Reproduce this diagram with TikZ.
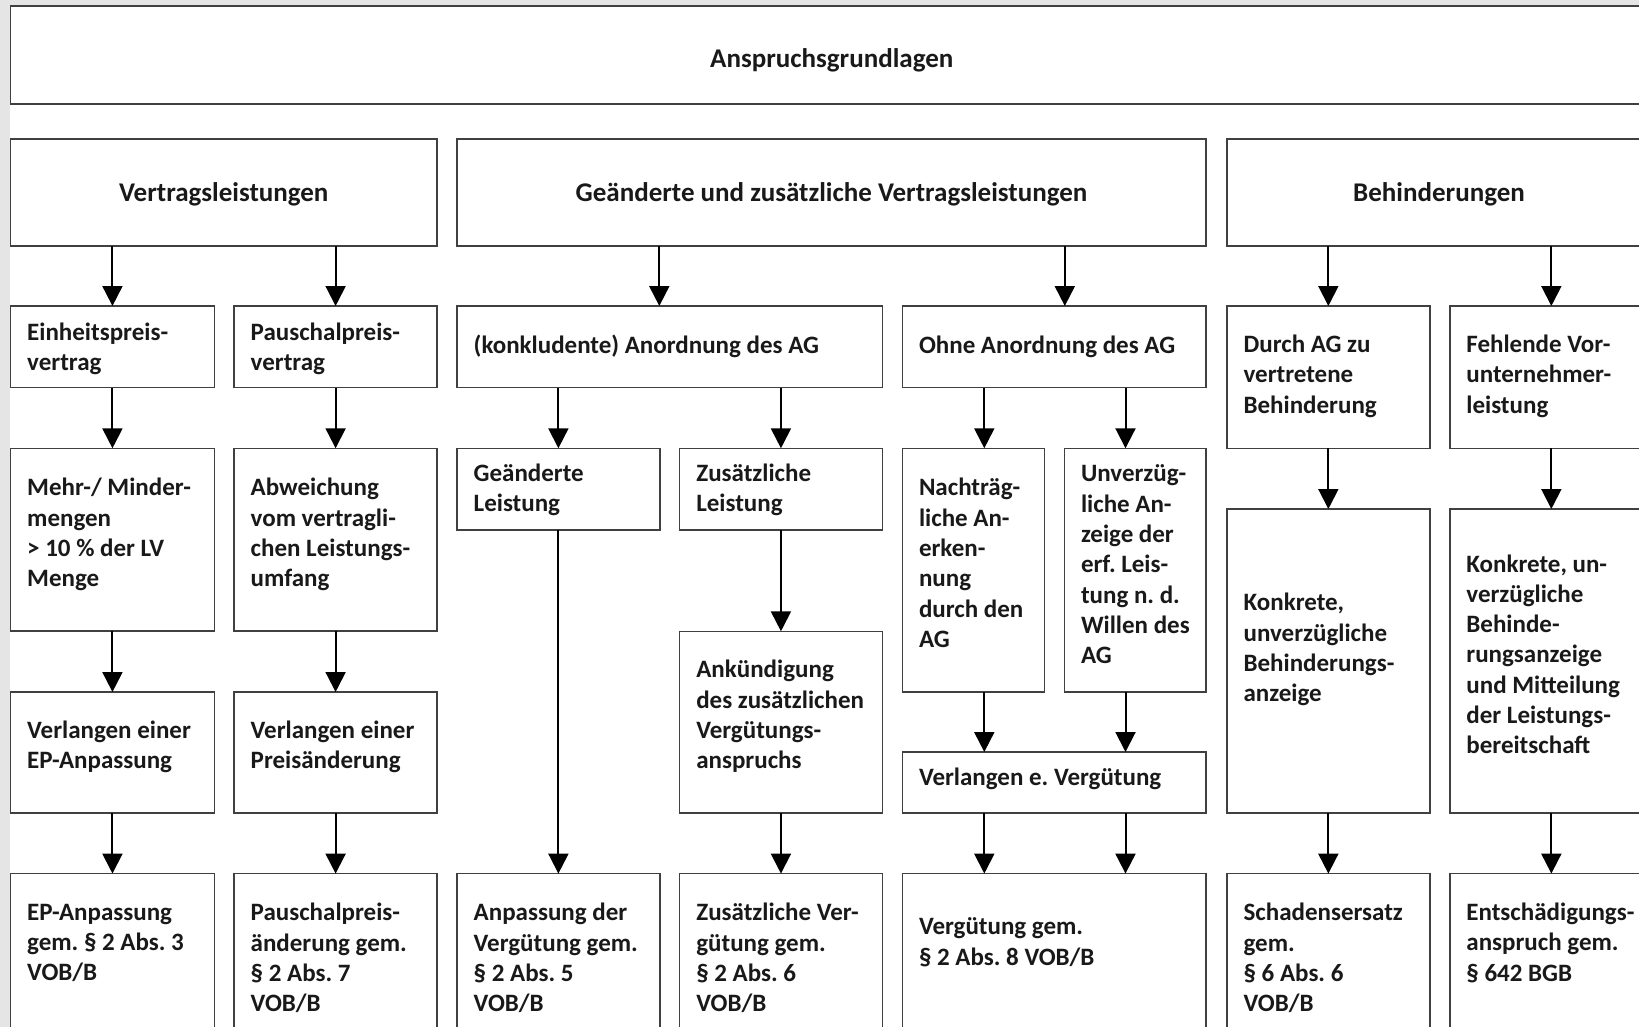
\documentclass[tikz,border=0pt]{standalone}
\usepackage{fontspec}
\setmainfont{Carlito}
\usetikzlibrary{arrows.meta,calc,fit}
\tikzset{
  box/.style={draw=black!75, line width=1.6pt, inner sep=0pt, outer sep=0pt},
  txt/.style={font=\bfseries\fontsize{25}{30.3}\selectfont\frenchspacing, text=black!90, align=left, inner sep=0pt, anchor=west},
  txtc/.style={font=\bfseries\fontsize{27}{32}\selectfont\frenchspacing, text=black!90, align=center, inner sep=0pt, anchor=center},
  arr/.style={draw=black, line width=2pt, -{Triangle[width=20pt,length=20pt]}}
}
\newcommand\bx[5]{\node[box, fit={(#2,#3) (#4,#5)}] (#1) {};}
\begin{document}
\begin{tikzpicture}[x=1pt,y=-1pt]
\useasboundingbox (0,0) rectangle (1639,1027);
\clip (0,0) rectangle (1639,1027);
\fill[white] (0,0) rectangle (1639,1027);
\fill[black!10] (0,0) rectangle (9.5,1027);
\fill[black!10] (0,0) rectangle (1639,4.7);
% boxes
\bx{top}{10.5}{6}{1653}{104}
\bx{vl}{10.5}{139}{437.2}{246}
\bx{ga}{457}{139}{1206}{246}
\bx{bh}{1226.9}{139}{1653}{246}
\bx{eh}{10.5}{306}{214.4}{387.5}
\bx{pp}{234}{306}{437.2}{387.5}
\bx{ko}{457}{306}{882.3}{387.5}
\bx{oh}{902.3}{306}{1206}{387.5}
\bx{da}{1226.9}{306}{1429.8}{448.3}
\bx{fv}{1449.7}{306}{1653}{448.3}
\bx{mm}{10.5}{448.3}{214.4}{631}
\bx{ab}{234}{448.3}{437.2}{631}
\bx{gl}{457}{448.3}{659.8}{530}
\bx{zl}{679.6}{448.3}{882.3}{530}
\bx{na}{902.3}{448.3}{1044.3}{692}
\bx{un}{1064.3}{448.3}{1206}{692}
\bx{kb}{1226.9}{509}{1429.8}{813}
\bx{ku}{1449.7}{509}{1653}{813}
\bx{ve}{10.5}{692}{214.4}{813}
\bx{vp}{234}{692}{437.2}{813}
\bx{an}{679.6}{631.3}{882.3}{813}
\bx{vv}{902.3}{752}{1206}{813}
\bx{ra}{10.5}{873.6}{214.4}{1045}
\bx{rb}{234}{873.6}{437.2}{1045}
\bx{rc}{457}{873.6}{659.8}{1045}
\bx{rd}{679.6}{873.6}{882.3}{1045}
\bx{re}{902.3}{873.6}{1206}{1045}
\bx{rf}{1226.9}{873.6}{1429.8}{1045}
\bx{rg}{1449.7}{873.6}{1653}{1045}
% texts
\node[txtc] (topt) at (831.75,60) {Anspruchsgrundlagen};
\node[txtc] (vlt) at (223.8,194) {Vertragsleistungen};
\node[txtc] (gat) at (831.5,194) {Geänderte und zusätzliche Vertragsleistungen};
\node[txtc] (bht) at (1439,194) {Behinderungen};
\node[txt] (eht) at (27,348.6) {Einheitspreis-\\vertrag};
\node[txt] (ppt) at (250.5,348.6) {Pauschalpreis-\\vertrag};
\node[txt] (kot) at (473.5,346.5) {(konkludente) Anordnung des AG};
\node[txt] (oht) at (918.8,346.5) {Ohne Anordnung des AG};
\node[txt] (dat) at (1243.4,376.3) {Durch AG zu\\vertretene\\Behinderung};
\node[txt] (fvt) at (1466.2,376.3) {Fehlende Vor-\\unternehmer-\\leistung};
\node[txt] (mmt) at (27,534.6) {Mehr-/ Minder-\\mengen\\> 10 \% der LV\\Menge};
\node[txt] (abt) at (250.5,534.6) {Abweichung\\vom vertragli-\\chen Leistungs-\\umfang};
\node[txt] (glt) at (473.5,489.7) {Geänderte\\Leistung};
\node[txt] (zlt) at (696.1,489.7) {Zusätzliche\\Leistung};
\node[txt] (nat) at (918.8,562.9) {Nachträg-\\liche An-\\erken-\\nung\\durch den\\AG};
\node[txt] (unt) at (1080.8,564.5) {Unverzüg-\\liche An-\\zeige der\\erf. Leis-\\tung n. d.\\Willen des\\AG};
\node[txt] (kbt) at (1243.4,649.6) {Konkrete,\\unverzügliche\\Behinderungs-\\anzeige};
\node[txt] (kut) at (1466.2,654.3) {Konkrete, un-\\verzügliche\\Behinde-\\rungsanzeige\\und Mitteilung\\der Leistungs-\\bereitschaft};
\node[txt] (vet) at (27,746.8) {Verlangen einer\\EP-Anpassung};
\node[txt] (vpt) at (250.5,746.8) {Verlangen einer\\Preisänderung};
\node[txt] (ant) at (696.1,716.5) {Ankündigung\\des zusätzlichen\\Vergütungs-\\anspruchs};
\node[txt] (vvt) at (918.8,779.2) {Verlangen e. Vergütung};
\node[txt] (rat) at (27,942.9) {EP-Anpassung\\gem. § 2 Abs. 3\\VOB/B};
\node[txt] (rbt) at (250.5,958) {Pauschalpreis-\\änderung gem.\\§ 2 Abs. 7\\VOB/B};
\node[txt] (rct) at (473.5,958) {Anpassung der\\Vergütung gem.\\§ 2 Abs. 5\\VOB/B};
\node[txt] (rdt) at (696.1,958) {Zusätzliche Ver-\\gütung gem.\\§ 2 Abs. 6\\VOB/B};
\node[txt] (ret) at (918.8,942.3) {Vergütung gem.\\§ 2 Abs. 8 VOB/B};
\node[txt] (rft) at (1243.4,958) {Schadensersatz\\gem.\\§ 6 Abs. 6\\VOB/B};
\node[txt] (rgt) at (1466.2,942.9) {Entschädigungs-\\anspruch gem.\\§ 642 BGB};
% helper coordinates
\coordinate (kox) at ($(ko.north west)+(202.3,0)$);
\coordinate (ohx) at ($(oh.north west)+(162.5,0)$);
\coordinate (ohl) at ($(oh.south west)+(82,0)$);
\coordinate (ohr) at ($(oh.south east)+(-80.5,0)$);
% arrows
\draw[arr] (eh.north |- vl.south) -- (eh.north);
\draw[arr] (pp.north |- vl.south) -- (pp.north);
\draw[arr] (kox |- ga.south) -- (kox);
\draw[arr] (ohx |- ga.south) -- (ohx);
\draw[arr] (da.north |- bh.south) -- (da.north);
\draw[arr] (fv.north |- bh.south) -- (fv.north);
\draw[arr] (eh.south) -- (mm.north);
\draw[arr] (pp.south) -- (ab.north);
\draw[arr] (gl.north |- ko.south) -- (gl.north);
\draw[arr] (zl.north |- ko.south) -- (zl.north);
\draw[arr] (ohl) -- (ohl |- na.north);
\draw[arr] (ohr) -- (ohr |- un.north);
\draw[arr] (da.south) -- (kb.north);
\draw[arr] (fv.south) -- (ku.north);
\draw[arr] (mm.south) -- (ve.north);
\draw[arr] (ab.south) -- (vp.north);
\draw[arr] (zl.south) -- (an.north);
\draw[arr] (ohl |- na.south) -- (ohl |- vv.north);
\draw[arr] (ohr |- un.south) -- (ohr |- vv.north);
\draw[arr] (ve.south) -- (ra.north);
\draw[arr] (vp.south) -- (rb.north);
\draw[arr] (gl.south) -- (rc.north);
\draw[arr] (an.south) -- (rd.north);
\draw[arr] (ohl |- vv.south) -- (ohl |- re.north);
\draw[arr] (ohr |- vv.south) -- (ohr |- re.north);
\draw[arr] (kb.south) -- (rf.north);
\draw[arr] (ku.south) -- (rg.north);
\end{tikzpicture}
\end{document}
